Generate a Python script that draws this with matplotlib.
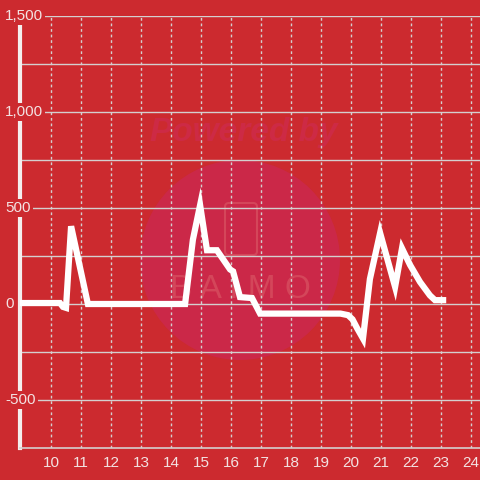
import matplotlib.pyplot as plt
import matplotlib.transforms as mtransforms
from matplotlib.patches import Circle, FancyBboxPatch

# series (hour of day vs value)
hours = [8.97, 10.3, 10.4, 10.5, 10.67, 11.23, 14.47, 14.73, 14.97, 15.2, 15.53,
         15.97, 16.07, 16.3, 16.7, 16.97, 19.65, 19.9, 20.05, 20.2, 20.4, 20.63,
         20.97, 21.47, 21.7, 21.97, 22.3, 22.63, 22.8, 23.07]
values = [5, 5, -15, -20, 405, 0, 0, 335, 515, 280, 280,
          180, 170, 36, 31, -50, -50, -58, -80, -125, -180, 130,
          370, 89, 290, 203, 115, 45, 20, 20]

x_ticks = list(range(10, 25))
y_labels = [1500, 1000, 500, 0, -500]

bg = '#cc2a2f'
grid_c = '#d4cfcf'
txt_c = '#f3e2e2'

plt.rcParams['font.family'] = ['Liberation Sans', 'DejaVu Sans']

fig = plt.figure(figsize=(4.8, 4.8), dpi=100, facecolor=bg)
ax = fig.add_axes([20 / 480, 32 / 480, 460 / 480, 432 / 480])
ax.set_facecolor(bg)
ax.set_xlim(8.967, 24.3)
ax.set_ylim(-750, 1500)

# watermark (figure fraction coords, drawn under the grid)
ax.add_patch(Circle((240 / 480, 1 - 260 / 480), 100 / 480, transform=fig.transFigure,
                    facecolor='#cb2848', edgecolor='none', zorder=0))
ax.add_patch(FancyBboxPatch((225 / 480, 1 - 255 / 480), 32 / 480, 52 / 480,
                            boxstyle='round,pad=0,rounding_size=0.008',
                            transform=fig.transFigure, facecolor='none',
                            edgecolor='#d4465a', lw=1.5, zorder=0.5))
ax.text(244 / 480, 1 - 133 / 480, 'Powered by', transform=fig.transFigure,
        ha='center', va='center', fontsize=24, fontweight='bold', style='italic',
        color='#cd2a45', zorder=0.5)
ax.text(240 / 480, 1 - 290 / 480, 'B A I M O', transform=fig.transFigure,
        ha='center', va='center', fontsize=24, color='#d4465a', zorder=0.5)

for yv in range(-500, 1501, 250):
    ax.axhline(yv, color=grid_c, lw=1, zorder=1)
for xv in x_ticks:
    ax.axvline(xv, color=grid_c, lw=1, ls=(0, (2, 2)), zorder=1)

ax.plot(hours, values, color='white', lw=4.5, solid_joinstyle='miter', zorder=3)

for s in ['top', 'right']:
    ax.spines[s].set_visible(False)
ax.spines['bottom'].set_color(grid_c)
ax.spines['bottom'].set_linewidth(1.2)
ax.spines['left'].set_color('#f4eeee')
ax.spines['left'].set_linewidth(3)
ax.spines['left'].set_bounds(-750, 1460)

ax.set_yticks([])
ax.set_xticks(x_ticks)
ax.tick_params(axis='x', length=0, pad=6, labelsize=11, labelcolor=txt_c)

lab_tr = mtransforms.blended_transform_factory(fig.transFigure, ax.transData)
for yv in y_labels:
    ax.text(5 / 480, yv, f'{yv:,}', transform=lab_tr, ha='left', va='center',
            fontsize=11, color=txt_c, zorder=5, clip_on=False,
            bbox=dict(facecolor=bg, edgecolor='none', pad=1.5))

fig.savefig('out.png', dpi=100, facecolor=bg)
